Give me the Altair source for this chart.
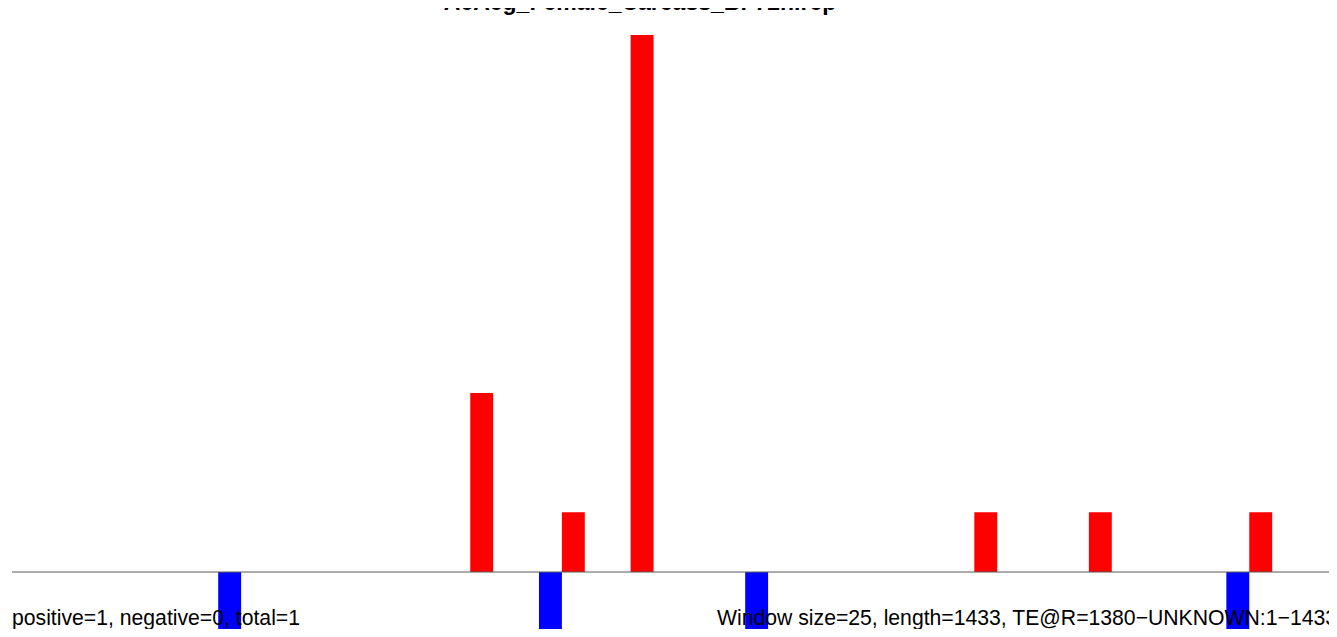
import altair as alt
import pandas as pd

# Window starts (bp) and counts
pos_starts = [500, 600, 675, 1050, 1175, 1350]
pos_values = [3, 1, 9, 1, 1, 1]
neg_starts = [225, 575, 800, 1325]
neg_values = [-1, -1, -1, -1]
window = 25

title_text = "AeAeg_Female_Carcass_BF72h.rep"
left_note = "positive=1, negative=0, total=1"
right_note = "Window size=25, length=1433, TE@R=1380\u2212UNKNOWN:1\u22121433"

rows = []
for s, v in zip(pos_starts, pos_values):
    rows.append({"start": s, "end": s + window, "value": v, "zero": 0, "strand": "pos"})
for s, v in zip(neg_starts, neg_values):
    rows.append({"start": s, "end": s + window, "value": v, "zero": 0, "strand": "neg"})
df = pd.DataFrame(rows)

W, H = 1317, 594
xscale = alt.Scale(domain=[0, 1437], nice=False, zero=False)
yscale = alt.Scale(domain=[-0.955, 9], nice=False, zero=False)

bars = alt.Chart(df).mark_bar(clip=False).encode(
    x=alt.X("start:Q", scale=xscale, axis=None),
    x2="end:Q",
    y=alt.Y("value:Q", scale=yscale, axis=None),
    y2="zero:Q",
    color=alt.Color("strand:N", scale=alt.Scale(domain=["pos", "neg"], range=["#ff0000", "#0000ff"]), legend=None),
)

base_line = alt.Chart(pd.DataFrame({"z": [0]})).mark_rule(color="#5a5a5a", strokeWidth=1).encode(
    y=alt.Y("z:Q", scale=yscale, axis=None),
    x=alt.value(0),
    x2=alt.value(W),
)

title = alt.Chart(pd.DataFrame({"t": [title_text]})).mark_text(
    font="Liberation Sans", fontWeight="bold", fontSize=23, align="center", baseline="alphabetic", color="black"
).encode(text="t:N", x=alt.value(628), y=alt.value(-25))

left = alt.Chart(pd.DataFrame({"t": [left_note]})).mark_text(
    font="Liberation Sans", fontSize=21.2, align="left", baseline="alphabetic", color="black"
).encode(text="t:N", x=alt.value(0), y=alt.value(590))

right = alt.Chart(pd.DataFrame({"t": [right_note]})).mark_text(
    font="Liberation Sans", fontSize=21.2, align="left", baseline="alphabetic", color="black"
).encode(text="t:N", x=alt.value(705), y=alt.value(590))

chart = alt.layer(bars, base_line, title, left, right).properties(
    width=W,
    height=H,
    autosize=alt.AutoSizeParams(type="none"),
    padding={"left": 4, "top": 27, "right": 0, "bottom": 0},
).configure_view(stroke=None)

chart.save("out.html", embed_options={"renderer": "svg", "actions": False})
